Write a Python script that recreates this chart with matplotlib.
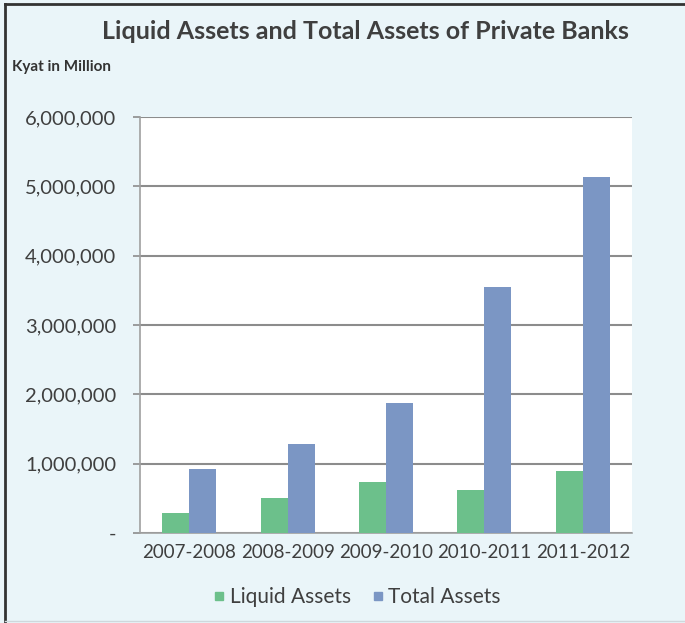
import numpy as np
import matplotlib.pyplot as plt
from matplotlib.ticker import FuncFormatter
from matplotlib.lines import Line2D

years = ['2007-2008', '2008-2009', '2009-2010', '2010-2011', '2011-2012']
liquid = [290000, 510000, 740000, 620000, 890000]
total = [920000, 1280000, 1880000, 3550000, 5140000]

plt.rcParams['font.family'] = ['Lato', 'DejaVu Sans']

bg = '#eaf5f9'
green = '#6cc08b'
blue = '#7b96c4'
grid_c = '#8c8c8c'
txt = '#3f3f3f'

fig = plt.figure(figsize=(6.85, 6.23), dpi=100, facecolor=bg)
ax = fig.add_axes([0.2044, 0.1445, 0.7182, 0.6677])
ax.set_facecolor('white')

x = np.arange(len(years))
w = 0.275
ax.bar(x - w / 2, liquid, w, color=green, zorder=3)
ax.bar(x + w / 2, total, w, color=blue, zorder=3)

ax.set_xlim(-0.5, len(years) - 0.5)
ax.set_ylim(0, 6000000)
ax.set_yticks(np.arange(0, 6000001, 1000000))
ax.yaxis.set_major_formatter(FuncFormatter(lambda v, p: '-' if v == 0 else f'{int(v):,}'))
ax.set_xticks(x)
ax.set_xticklabels(years)
ax.grid(axis='y', color=grid_c, linewidth=1.5, zorder=1)
for s in ['top', 'right']:
    ax.spines[s].set_visible(False)
for s in ['left', 'bottom']:
    ax.spines[s].set_color('#a0a0a0')
    ax.spines[s].set_linewidth(1.2)
ax.tick_params(axis='y', length=5, color=grid_c, width=1.2, pad=12, labelsize=14.5, labelcolor=txt)
ax.tick_params(axis='x', length=0, pad=8, labelsize=13.5, labelcolor=txt)

fig.text(0.533, 0.949, 'Liquid Assets and Total Assets of Private Banks', ha='center', va='center',
         fontsize=18, fontweight='bold', color=txt)
fig.text(0.017, 0.892, 'Kyat in Million', ha='left', va='center', fontsize=11, fontweight='bold', color='#333333')

handles = [Line2D([], [], marker='s', linestyle='none', markersize=6, color=green),
           Line2D([], [], marker='s', linestyle='none', markersize=6, color=blue)]
fig.legend(handles, ['Liquid Assets', 'Total Assets'], loc='center', bbox_to_anchor=(0.518, 0.042),
           ncol=2, frameon=False, fontsize=15, handletextpad=0.0, columnspacing=0.8,
           handlelength=1.0, labelcolor=txt)

# frame around the picture
fig.add_artist(Line2D([0.008, 0.008], [0, 0.994], transform=fig.transFigure, color='#333333', linewidth=2))
fig.add_artist(Line2D([0.008, 1], [0.994, 0.994], transform=fig.transFigure, color='#333333', linewidth=2))
fig.add_artist(Line2D([0.008, 1], [0.004, 0.004], transform=fig.transFigure, color='#cfd8dc', linewidth=1))

fig.savefig('out.png', dpi=100, facecolor=bg)
